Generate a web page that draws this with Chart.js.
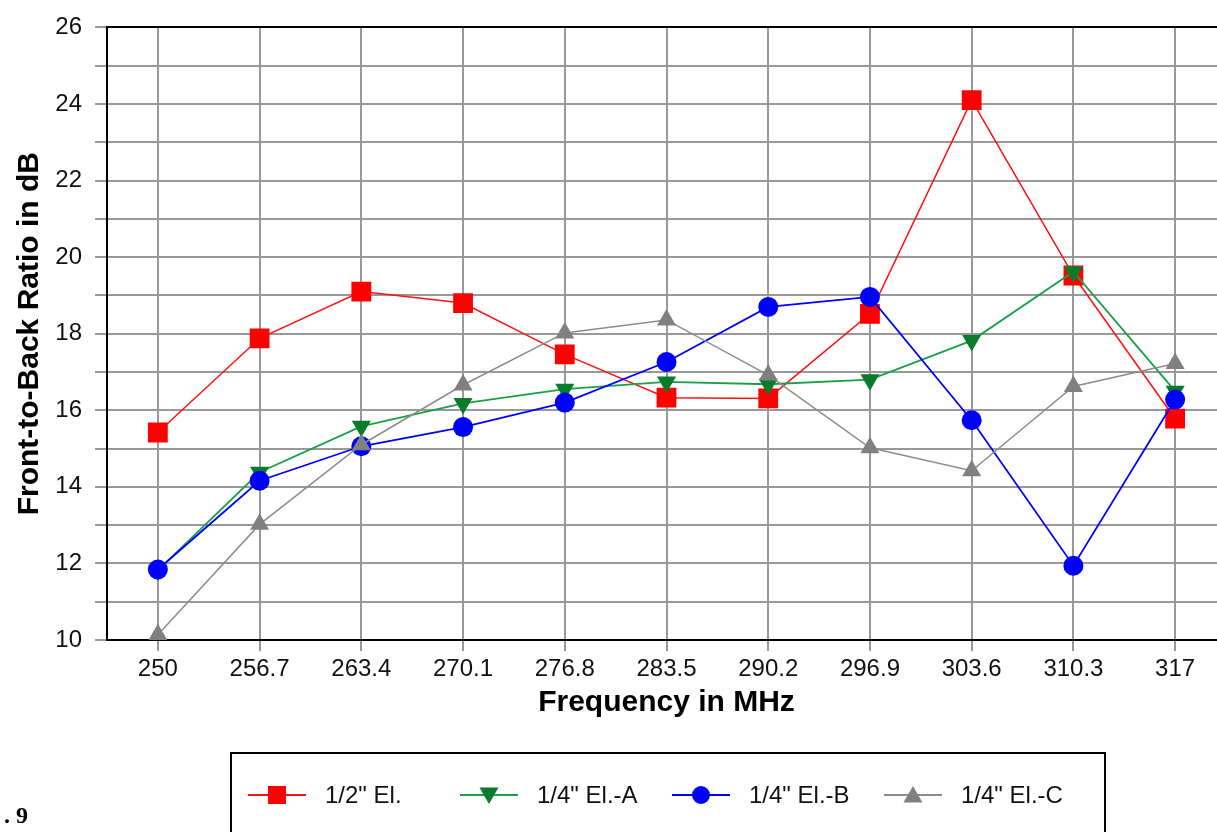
<!DOCTYPE html>
<html>
<head>
<meta charset="utf-8">
<script src="https://cdn.jsdelivr.net/npm/chart.js@4/dist/chart.umd.min.js"></script>
<style>
  html, body { margin: 0; padding: 0; background: #fff; overflow: hidden; }
  #wrap { position: relative; width: 1217px; height: 832px; overflow: hidden; }
  #fbChart { position: absolute; left: 0; top: 0; }
  #fig { position: absolute; left: 4px; top: 802px; font: bold 24px "Liberation Serif", serif; color: #000; }
</style>
</head>
<body>
<div id="wrap">
  <canvas id="fbChart" width="1230" height="832" style="width:1230px;height:832px"></canvas>
  <div id="fig">. 9</div>
</div>
<script>
//data
const freqs = ["250", "256.7", "263.4", "270.1", "276.8", "283.5", "290.2", "296.9", "303.6", "310.3", "317"];

const half_el = [15.42, 17.88, 19.1, 18.8, 17.46, 16.33, 16.31, 18.52, 24.1, 19.52, 15.78];
const quarter_a = [11.82, 14.38, 15.58, 16.18, 16.55, 16.74, 16.68, 16.8, 17.82, 19.62, 16.5];
const quarter_b = [11.84, 14.16, 15.06, 15.56, 16.2, 17.26, 18.7, 18.96, 15.74, 11.94, 16.28];
const quarter_c = [10.14, 13.02, 15.1, 16.66, 18.02, 18.36, 16.92, 15.02, 14.42, 16.62, 17.22];

const series_names = ['1/2" El.', '1/4" El.-A', '1/4" El.-B', '1/4" El.-C'];

const y_min = 10, y_max = 26;

let fb_chart = document.getElementById("fbChart").getContext('2d');

//legend drawn inside a box under the axes
function drawMarker(ctx, style, x, y, r, rot) {
    ctx.beginPath();
    if (style === 'rect') {
        ctx.rect(x - r, y - r, 2 * r, 2 * r);
    } else if (style === 'circle') {
        ctx.arc(x, y, r, 0, Math.PI * 2);
    } else {
        const d = rot ? -1 : 1;
        ctx.moveTo(x, y - d * r);
        ctx.lineTo(x + r * 0.866, y + d * r * 0.5);
        ctx.lineTo(x - r * 0.866, y + d * r * 0.5);
        ctx.closePath();
    }
    ctx.fill();
}

const boxLegend = {
    id: 'boxLegend',
    afterDraw(chart) {
        const ctx = chart.ctx;
        ctx.save();
        ctx.strokeStyle = '#000';
        ctx.lineWidth = 2;
        ctx.strokeRect(231, 753, 874, 100);

        ctx.font = '24px "Liberation Sans", Arial, sans-serif';
        ctx.textBaseline = 'middle';
        ctx.textAlign = 'left';
        const y = 795;
        chart.data.datasets.forEach((ds, i) => {
            const x = 248 + i * 212;
            ctx.strokeStyle = ds.borderColor;
            ctx.lineWidth = 2;
            ctx.beginPath();
            ctx.moveTo(x, y);
            ctx.lineTo(x + 58, y);
            ctx.stroke();
            ctx.fillStyle = ds.pointBackgroundColor;
            let r = ds.pointStyle === 'rect' ? 9 : (ds.pointStyle === 'circle' ? 9 : 11);
            drawMarker(ctx, ds.pointStyle, x + 29, ds.pointStyle === 'triangle' ? y - (ds.pointRotation ? 2 : -2) : y, r, ds.pointRotation);
            ctx.fillStyle = '#111';
            ctx.fillText(ds.label, x + 77, y + 1);
        });
        ctx.restore();
    }
};

let chart = new Chart(fb_chart, {
    type: 'line',
    data: {
        labels: freqs,
        datasets: [{
            label: series_names[0],
            data: half_el,
            borderColor: '#ff1010',
            backgroundColor: '#ff0000',
            pointBackgroundColor: '#ff0000',
            pointBorderColor: '#ff0000',
            pointStyle: 'rect',
            pointRadius: 14,
            pointBorderWidth: 0,
            borderWidth: 1.5,
            order: 4
        },
        {
            label: series_names[1],
            data: quarter_a,
            borderColor: '#1aa048',
            backgroundColor: '#0a7a2c',
            pointBackgroundColor: '#0a7a2c',
            pointBorderColor: '#0a7a2c',
            pointStyle: 'triangle',
            pointRotation: 180,
            pointRadius: 11,
            pointBorderWidth: 0,
            borderWidth: 1.8,
            order: 3
        },
        {
            label: series_names[2],
            data: quarter_b,
            borderColor: '#0000ff',
            backgroundColor: '#0000ff',
            pointBackgroundColor: '#0000ff',
            pointBorderColor: '#0000ff',
            pointStyle: 'circle',
            pointRadius: 10,
            pointBorderWidth: 0,
            borderWidth: 1.8,
            order: 2
        },
        {
            label: series_names[3],
            data: quarter_c,
            borderColor: '#8c8c8c',
            backgroundColor: '#808080',
            pointBackgroundColor: '#808080',
            pointBorderColor: '#808080',
            pointStyle: 'triangle',
            pointRadius: 11,
            pointBorderWidth: 0,
            borderWidth: 1.5,
            order: 1
        }]
    },
    options: {
        responsive: false,
        animation: false,
        layout: {
            // big point markers would otherwise widen the right padding
            autoPadding: false,
            padding: { left: 8, top: 27, right: 4, bottom: 107 }
        },
        plugins: {
            legend: { display: false },
            tooltip: { enabled: false }
        },
        scales: {
            x: {
                offset: true,
                afterFit: (scale) => {
                    scale.height = 85;
                    scale.paddingLeft = 0;
                    scale.paddingRight = 0;
                },
                grid: {
                    offset: false,
                    color: '#999',
                    lineWidth: 2,
                    tickLength: 11,
                    tickColor: '#999'
                },
                border: { color: '#000', width: 2 },
                ticks: {
                    color: '#111',
                    padding: 4,
                    maxRotation: 0,
                    font: { family: '"Liberation Sans", Arial, sans-serif', size: 24 }
                },
                title: {
                    display: true,
                    text: 'Frequency in MHz',
                    color: '#000',
                    font: { family: '"Liberation Sans", Arial, sans-serif', size: 30, weight: 'bold' }
                }
            },
            y: {
                min: y_min,
                max: y_max,
                afterFit: (scale) => { scale.width = 99; },
                grid: {
                    color: (c) => c.tick && c.tick.value === y_max ? '#000' : '#999',
                    lineWidth: 2,
                    tickLength: 12,
                    tickColor: '#999'
                },
                border: { color: '#000', width: 2 },
                ticks: {
                    stepSize: 1,
                    padding: 13,
                    color: '#111',
                    font: { family: '"Liberation Sans", Arial, sans-serif', size: 24 },
                    callback: (v) => v % 2 === 0 ? v : ''
                },
                title: {
                    display: true,
                    text: 'Front-to-Back Ratio in dB',
                    color: '#000',
                    font: { family: '"Liberation Sans", Arial, sans-serif', size: 30, weight: 'bold' }
                }
            }
        }
    },
    plugins: [boxLegend]
});
</script>
</body>
</html>
